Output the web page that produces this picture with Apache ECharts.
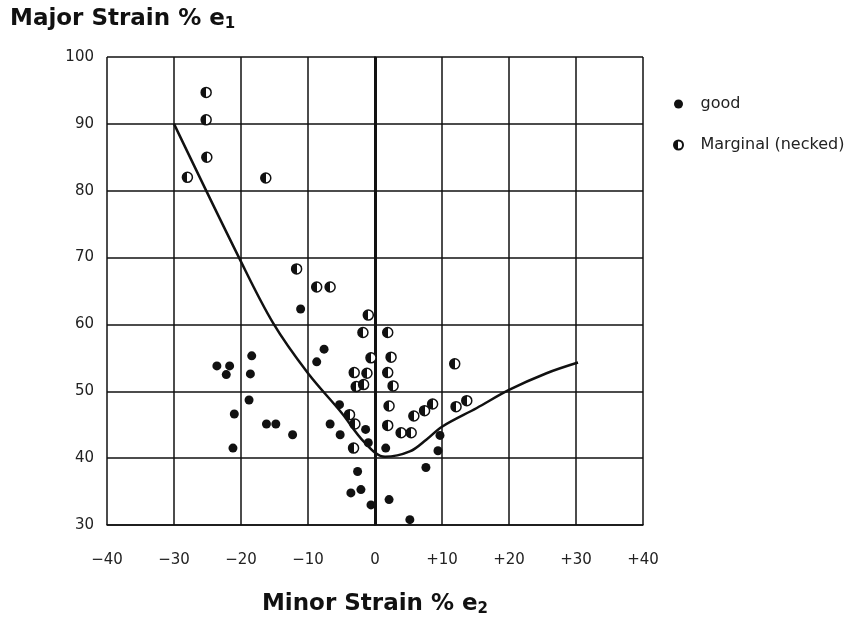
<!DOCTYPE html>
<html><head><meta charset="utf-8">
<script src="https://cdn.jsdelivr.net/npm/echarts@6/dist/echarts.min.js"></script>
<style>html,body{margin:0;padding:0;background:#fff}#c{width:866px;height:623px}</style>
</head><body><div id="c"></div>
<script>
// Good (formed OK) points: [minor strain e2, major strain e1]
const goodPoints = [
  [-11.1,62.3],[-7.6,56.3],[-8.7,54.4],[-18.4,55.3],[-18.6,52.6],[-23.6,53.8],[-21.7,53.8],
  [-22.2,52.5],[-18.8,48.7],[-21.0,46.6],[-21.2,41.5],[-16.2,45.1],[-14.8,45.1],[-12.3,43.5],
  [-5.3,48.0],[-6.7,45.1],[-5.2,43.5],[-1.4,44.3],[-1.0,42.3],[1.6,41.5],[-2.6,38.0],
  [-2.1,35.3],[-3.6,34.8],[-0.6,33.0],[2.1,33.8],[9.7,43.4],[9.4,41.1],[7.6,38.6],[5.2,30.8]
];
// Marginal (necked) points
const marginalPoints = [
  [-25.2,94.7],[-25.2,90.6],[-25.1,85.0],[-28.0,82.0],[-16.3,81.9],[-11.7,68.3],[-8.7,65.6],
  [-6.7,65.6],[-1.0,61.4],[-1.8,58.8],[1.9,58.8],[-0.6,55.0],[2.4,55.1],[-3.1,52.8],[-1.2,52.7],
  [1.9,52.8],[-2.8,50.7],[-1.7,51.0],[2.7,50.8],[2.1,47.8],[-3.8,46.5],[-3.0,45.1],[1.9,44.9],
  [-3.2,41.5],[11.9,54.1],[5.8,46.3],[7.4,47.1],[8.6,48.1],[12.1,47.7],[13.7,48.6],[3.9,43.8],[5.4,43.8]
];
// Forming limit curve
const flcCurve = [
  [-30,90],[-20.3,70],[-15.2,60.2],[-10,52.7],[-5,46.8],[-1.6,42.4],[1.5,40.2],
  [5.2,41],[7.7,42.8],[10,44.7],[15.2,47.5],[20,50.2],[25.6,52.7],[30.3,54.3]
];
const xTicks = [-40,-30,-20,-10,0,10,20,30,40];
const yRange = [30,100];

const chart = echarts.init(document.getElementById('c'));
const FONT = 'DejaVu Sans';
const halfFill = new echarts.graphic.LinearGradient(0,0,1,0,[
  {offset:0,color:'#111'},{offset:0.5,color:'#111'},{offset:0.5,color:'#fff'},{offset:1,color:'#fff'}
]);
const richName = {
  a:{fontFamily:FONT,fontWeight:'bold',fontSize:23,color:'#111'},
  s:{fontFamily:FONT,fontWeight:'bold',fontSize:15,color:'#111',verticalAlign:'bottom',padding:[10,0,0,0]}
};
chart.setOption({
  animation:false,
  backgroundColor:'#fff',
  title:{
    left:5, top:2,
    text:'{a|Major Strain % e}{s|1}',
    textStyle:{rich:richName}
  },
  legend:{
    orient:'vertical', left:668, top:91, itemGap:25, itemWidth:34, itemHeight:9,
    textStyle:{fontFamily:FONT,fontSize:16,color:'#222'},
    data:['good','Marginal (necked)']
  },
  grid:{left:107,right:223,top:57,bottom:98},
  xAxis:{
    type:'value', min:xTicks[0], max:xTicks[xTicks.length-1], interval:10,
    axisLine:{lineStyle:{color:'#111',width:1.5}},
    axisTick:{show:false},
    axisLabel:{margin:28,fontFamily:FONT,fontSize:15,color:'#222',
      formatter:v=> v>0?'+'+v:(v<0?'\u2212'+Math.abs(v):'0')},
    splitLine:{show:true,lineStyle:{color:'#111',width:1.5}},
    name:'{a|Minor Strain % e}{s|2}', nameLocation:'middle', nameGap:67,
    nameTextStyle:{rich:richName}
  },
  yAxis:{
    type:'value', min:yRange[0], max:yRange[1], interval:10,
    axisLine:{show:true,lineStyle:{color:'#111',width:1.5}},
    axisTick:{show:false},
    axisLabel:{margin:13,fontFamily:FONT,fontSize:15,color:'#222'},
    splitLine:{show:true,lineStyle:{color:'#111',width:1.5}}
  },
  series:[
    {
      name:'curve', type:'line', data:flcCurve, smooth:0.35, showSymbol:false, symbol:'none',
      lineStyle:{color:'#111',width:2.5}, z:3,
      markLine:{silent:true,symbol:'none',label:{show:false},
        lineStyle:{color:'#111',width:3,type:'solid'},data:[{xAxis:0}]}
    },
    {
      name:'good', type:'scatter', data:goodPoints, symbol:'circle', symbolSize:9,
      itemStyle:{color:'#111',opacity:1}, z:5
    },
    {
      name:'Marginal (necked)', type:'scatter', data:marginalPoints, symbol:'circle', symbolSize:10,
      itemStyle:{color:halfFill,borderColor:'#111',borderWidth:1.5,opacity:1}, z:5
    }
  ]
});
</script></body></html>
